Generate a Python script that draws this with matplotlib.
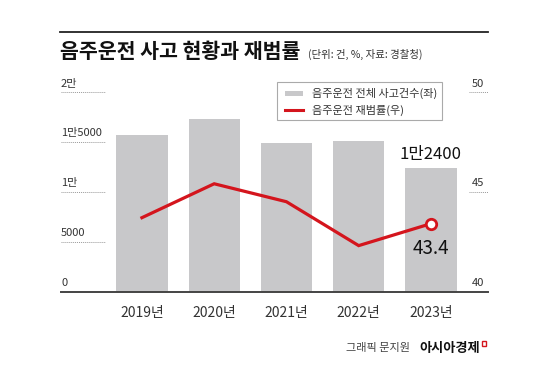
import matplotlib
matplotlib.use("Agg")
import matplotlib.pyplot as plt
import matplotlib.transforms as mtransforms
from matplotlib.patches import Rectangle
from matplotlib.lines import Line2D
import numpy as np

plt.rcParams["font.family"] = ["Noto Sans CJK KR", "DejaVu Sans"]

years = ["2019년", "2020년", "2021년", "2022년", "2023년"]
accidents = [15708, 17247, 14894, 15059, 12400]      # 건 (좌)
repeat_rate = [43.7, 45.4, 44.5, 42.3, 43.4]         # % (우)
left_ticks = [0, 5000, 10000, 15000, 20000]
left_labels = ["0", "5000", "1만", "1만5000", "2만"]
right_ticks = [40, 45, 50]
right_labels = ["40", "45", "50"]

W, H = 550, 366
BAR = "#c8c8ca"
RED = "#d4151d"
INK = "#333333"


def fx(x):
    return x / W


def fy(y):
    return 1 - y / H


fig = plt.figure(figsize=(W / 100, H / 100), dpi=100)
fig.patch.set_facecolor("white")

# plot area: baseline at y=291.5px, "2만"/"50" at y=92px
ax = fig.add_axes([fx(61), fy(291.5), (488 - 61) / W, (291.5 - 92) / H])
ax2 = ax.twinx()
for a in (ax, ax2):
    for s in a.spines.values():
        s.set_visible(False)
    a.set_xticks([])
    a.set_yticks([])
    a.patch.set_visible(False)

x = np.arange(len(years))
ax.bar(x, accidents, width=0.71, color=BAR, zorder=1)
ax.set_xlim(-1.12, 4.79)
ax.set_ylim(0, 20000)
ax2.set_ylim(40, 50)

ax.axhline(0, color="#444444", lw=1.4, zorder=3, clip_on=False)

# left axis labels + short dotted guides
tl = mtransforms.blended_transform_factory(ax.transAxes, ax.transData)
for v, lbl in zip(left_ticks, left_labels):
    ax.annotate(lbl, xy=(0, v), xycoords=tl, xytext=(0, 2.5), textcoords="offset points",
                ha="left", va="bottom", fontsize=8, color=INK)
    if v:
        ax.plot([0, 0.103], [v, v], transform=tl, ls=(0, (1, 1)), lw=0.7,
                color="#999999", clip_on=False)

tr = mtransforms.blended_transform_factory(ax2.transAxes, ax2.transData)
for v, lbl in zip(right_ticks, right_labels):
    ax2.annotate(lbl, xy=(0.963, v), xycoords=tr, xytext=(0, 2.5), textcoords="offset points",
                 ha="left", va="bottom", fontsize=8, color=INK)
    if v != 40:
        ax2.plot([0.955, 1.0], [v, v], transform=tr, ls=(0, (1, 1)), lw=0.7,
                 color="#999999", clip_on=False)

# repeat-offence rate line
ax2.plot(x, repeat_rate, color=RED, lw=2.3, solid_joinstyle="miter", zorder=4,
         marker="o", markevery=[len(x) - 1], mfc="white", mec=RED, ms=7.5, mew=2)

# year labels
for i, yr in enumerate(years):
    ax.annotate(yr, xy=(i, 0), xytext=(0, -15.5), textcoords="offset points",
                ha="center", va="center", fontsize=10, color=INK, annotation_clip=False)

# highlight values for 2023
ax.annotate("1만2400", xy=(4, accidents[-1]), xytext=(0, 3.5), textcoords="offset points",
            ha="center", va="bottom", fontsize=12, fontweight="medium", color="#111111",
            annotation_clip=False)
ax2.annotate(f"{repeat_rate[-1]}", xy=(4, repeat_rate[-1]), xytext=(0, -18),
             textcoords="offset points", ha="center", va="center", fontsize=13.5,
             color="#111111", annotation_clip=False)

# legend box
fig.patches.append(Rectangle((fx(277), fy(120)), (442 - 277) / W, (120 - 82) / H,
                             transform=fig.transFigure, fill=False, ec="#aaaaaa", lw=0.8))
fig.patches.append(Rectangle((fx(285), fy(95.5)), 18 / W, 5 / H,
                             transform=fig.transFigure, color=BAR, lw=0))
fig.lines.append(Line2D([fx(285), fx(303)], [fy(109.5)] * 2, transform=fig.transFigure,
                        color=RED, lw=2.2))
fig.text(fx(312), fy(93), "음주운전 전체 사고건수(좌)", fontsize=8, color=INK, va="center")
fig.text(fx(312), fy(110), "음주운전 재범률(우)", fontsize=8, color=INK, va="center")

# header
fig.lines.append(Line2D([fx(60), fx(488)], [fy(32)] * 2, transform=fig.transFigure,
                        color="#222222", lw=1.3))
fig.text(fx(60), fy(51), "음주운전 사고 현황과 재범률", fontsize=14.8, fontweight="bold",
         color="#111111", va="center")
fig.text(fx(308), fy(54), "(단위: 건, %, 자료: 경찰청)", fontsize=7.5, color=INK, va="center")

# credit
fig.text(fx(410), fy(348), "그래픽 문지원", fontsize=8, color="#444444", ha="right", va="center")
fig.text(fx(480), fy(348), "아시아경제", fontsize=9.5, fontweight="bold", color="#111111",
         ha="right", va="center")
fig.patches.append(Rectangle((fx(482), fy(346)), 4 / W, 5 / H, transform=fig.transFigure,
                             fill=False, ec=RED, lw=1))

fig.savefig("out.png", dpi=100)
